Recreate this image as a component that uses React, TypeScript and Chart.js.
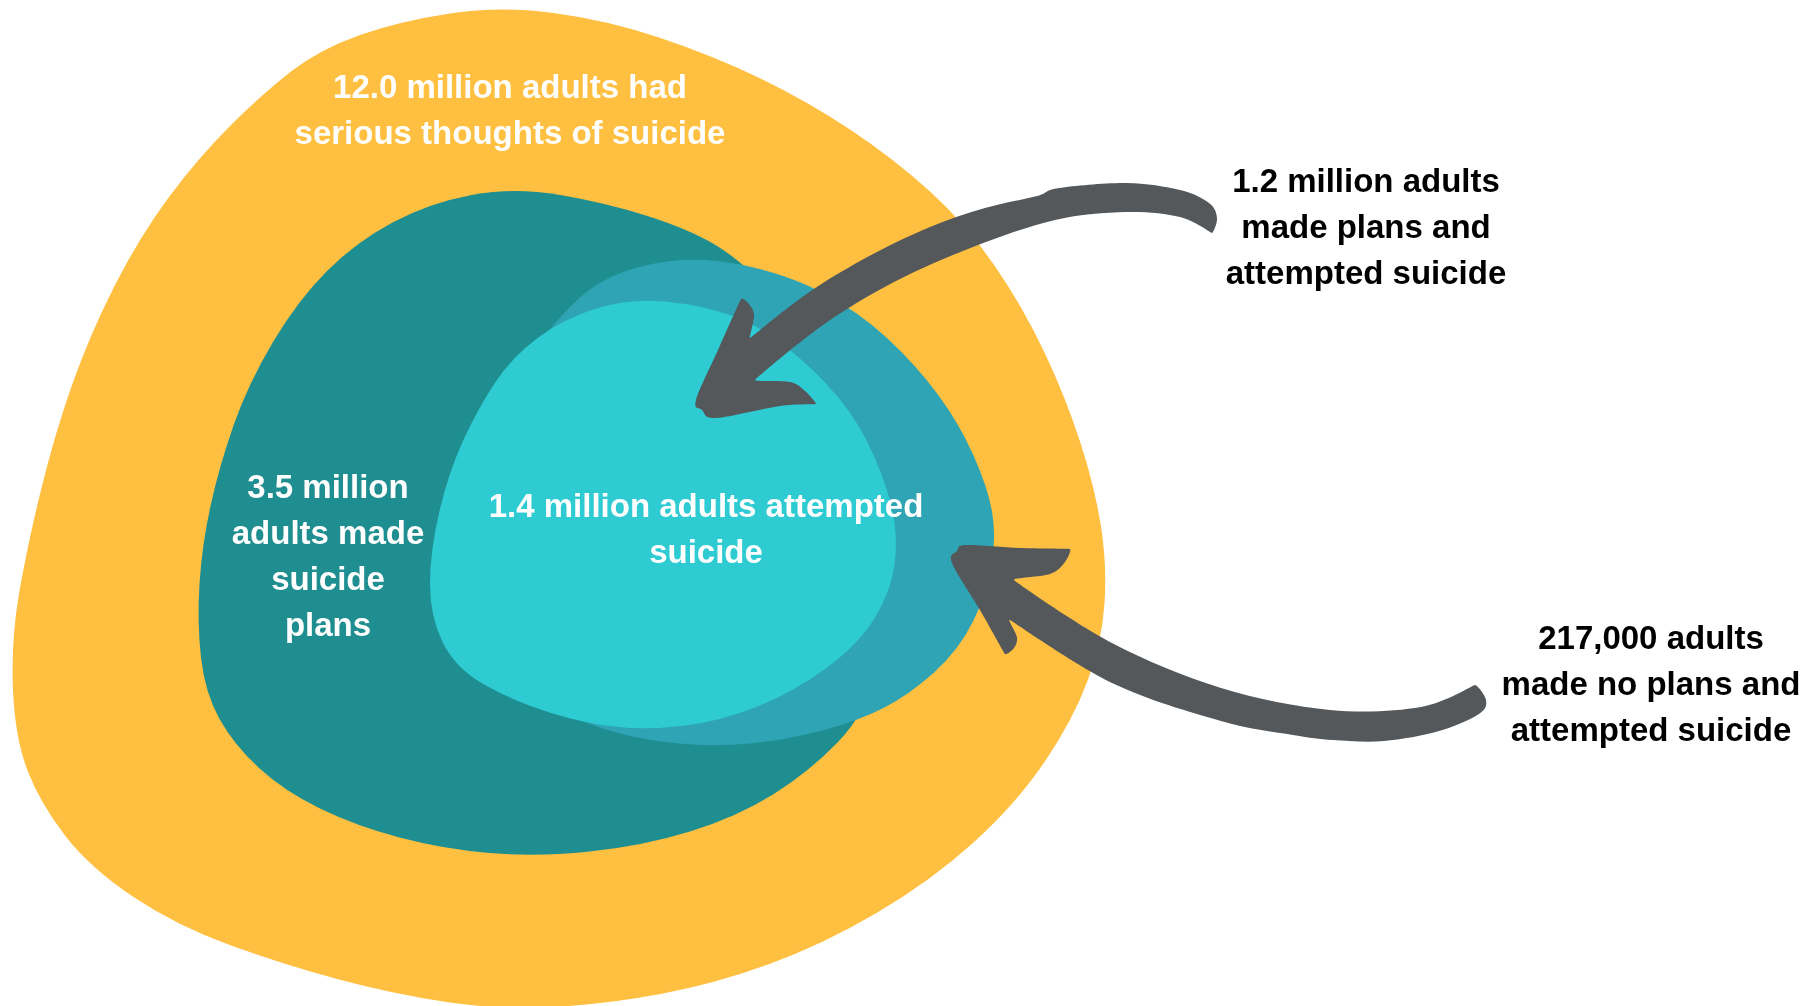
import React, { useEffect, useRef } from "react";
import { Chart, registerables } from "chart.js";

Chart.register(...registerables);

// Outline points of each region (in chart units, x: 0..1811, y: 0..1006 top-down)
const thoughtsBlob: number[][] = [
  [500, 6], [607, 20], [714, 56], [807, 101], [893, 158], [966, 224], [1023, 307], [1066, 398],
  [1095, 488], [1107, 565], [1102, 642], [1073, 720], [1016, 804], [931, 881], [822, 945],
  [714, 984], [607, 1004], [500, 1010], [393, 994], [285, 965], [177, 926], [90, 868], [40, 803],
  [15, 738], [11, 642], [26, 552], [54, 436], [90, 334], [140, 236], [198, 158], [262, 94],
  [320, 49], [400, 21],
];
const plansBlob: number[][] = [
  [514, 187], [607, 203], [688, 229], [738, 258], [800, 320], [855, 420], [882, 540], [882, 640],
  [866, 713], [809, 772], [737, 817], [643, 846], [536, 857], [443, 849], [356, 826], [284, 791],
  [234, 745], [205, 693], [197, 622], [202, 545], [219, 467], [248, 384], [298, 300], [356, 242],
  [429, 203],
];
const planAttemptBlob: number[][] = [
  [693, 255], [787, 274], [859, 312], [916, 365], [959, 423], [988, 488], [996, 535], [988, 591],
  [959, 650], [909, 695], [858, 721], [786, 740], [714, 747], [643, 740], [586, 724], [540, 700],
  [490, 640], [470, 560], [475, 470], [505, 390], [555, 320], [606, 274],
];
const attemptBlob: number[][] = [
  [629, 298], [701, 305], [759, 325], [816, 371], [859, 422], [888, 488], [898, 539], [891, 591],
  [859, 644], [794, 692], [721, 721], [650, 730], [586, 724], [513, 701], [455, 668], [430, 616],
  [430, 552], [448, 474], [477, 410], [512, 357], [563, 319],
];
const arrowTop: number[][] = [
  [696, 400], [718, 350], [741, 299], [748, 303], [754, 315], [750, 338], [785, 310], [823, 283],
  [875, 253], [930, 227], [985, 208], [1037, 196], [1059, 188], [1126, 183], [1180, 190],
  [1209, 203], [1217, 218], [1212, 233], [1180, 217], [1126, 212], [1055, 220], [973, 247],
  [894, 282], [823, 325], [755, 380], [790, 382], [805, 391], [816, 404], [780, 406], [716, 418],
  [702, 410],
];
const arrowBottom: number[][] = [
  [952, 563], [957, 551], [966, 545], [1020, 548], [1070, 549], [1065, 562], [1050, 574],
  [1014, 580], [1112, 643], [1221, 688], [1330, 710], [1421, 707], [1475, 685], [1486, 700],
  [1479, 714], [1439, 731], [1384, 741], [1333, 740], [1293, 735], [1221, 721], [1112, 683],
  [1010, 620], [1017, 637], [1014, 648], [1005, 654], [980, 610],
];

const regionNames = [
  "Serious thoughts of suicide",
  "Made suicide plans",
  "Made plans and attempted",
  "Attempted suicide",
  "Arrow: plans and attempted",
  "Arrow: no plans and attempted",
];
const regionShapes = [thoughtsBlob, plansBlob, planAttemptBlob, attemptBlob, arrowTop, arrowBottom];
const regionColors = ["#FFBF40", "#1F8E91", "#2EA4B4", "#2ECBD2", "#54585B", "#54585B"];
const regionSmooth = ["soft", "soft", "soft", "soft", "sharp", "sharp"];

const labelTexts: string[][] = [
  ["12.0 million adults had", "serious thoughts of suicide"],
  ["3.5 million", "adults made", "suicide", "plans"],
  ["1.4 million adults attempted", "suicide"],
  ["1.2 million adults", "made plans and", "attempted suicide"],
  ["217,000 adults", "made no plans and", "attempted suicide"],
];
const labelAnchors: number[][] = [
  [510, 89], [328, 489], [706, 508], [1366, 183], [1651, 640],
];
const labelColors = ["#FFFFFF", "#FFFFFF", "#FFFFFF", "#000000", "#000000"];
const lineGap = 46;
const labelFont = "bold 33px Arial, 'Liberation Sans', Helvetica, sans-serif";

const blobPlugin = {
  id: "blobs",
  beforeDatasetsDraw(chart: any) {
    const ctx = chart.ctx;
    chart.data.datasets.forEach((ds: any, i: number) => {
      const meta = chart.getDatasetMeta(i);
      const p = meta.data.map((e: any) => ({ x: e.x, y: e.y }));
      const n = p.length;
      if (n < 3) return;
      ctx.save();
      ctx.beginPath();
      if (ds.blobSmooth === "soft") {
        // closed quadratic B-spline through midpoints
        const mid = (a: any, b: any) => ({ x: (a.x + b.x) / 2, y: (a.y + b.y) / 2 });
        const m0 = mid(p[n - 1], p[0]);
        ctx.moveTo(m0.x, m0.y);
        for (let j = 0; j < n; j++) {
          const m = mid(p[j], p[(j + 1) % n]);
          ctx.quadraticCurveTo(p[j].x, p[j].y, m.x, m.y);
        }
      } else {
        // Catmull-Rom with tension reduced at sharp corners
        const t = p.map((_: any, j: number) => {
          const a = p[(j - 1 + n) % n];
          const b = p[j];
          const c = p[(j + 1) % n];
          const v1x = b.x - a.x, v1y = b.y - a.y, v2x = c.x - b.x, v2y = c.y - b.y;
          const cos = (v1x * v2x + v1y * v2y) / (Math.hypot(v1x, v1y) * Math.hypot(v2x, v2y) || 1);
          return cos < 0.45 ? 0.2 : 1;
        });
        const k = 1 / 6;
        ctx.moveTo(p[0].x, p[0].y);
        for (let j = 0; j < n; j++) {
          const j1 = (j + 1) % n;
          const p0 = p[(j - 1 + n) % n];
          const p1 = p[j];
          const p2 = p[j1];
          const p3 = p[(j + 2) % n];
          ctx.bezierCurveTo(
            p1.x + (p2.x - p0.x) * k * t[j],
            p1.y + (p2.y - p0.y) * k * t[j],
            p2.x - (p3.x - p1.x) * k * t[j1],
            p2.y - (p3.y - p1.y) * k * t[j1],
            p2.x,
            p2.y
          );
        }
      }
      ctx.closePath();
      ctx.fillStyle = ds.blobColor;
      ctx.fill();
      ctx.restore();
    });
  },
};

const labelPlugin = {
  id: "blobLabels",
  afterDatasetsDraw(chart: any) {
    const ctx = chart.ctx;
    const xs = chart.scales.x;
    const ys = chart.scales.y;
    ctx.save();
    ctx.font = labelFont;
    ctx.textAlign = "center";
    ctx.textBaseline = "middle";
    labelTexts.forEach((lines, i) => {
      const [ax, ay] = labelAnchors[i];
      ctx.fillStyle = labelColors[i];
      lines.forEach((line, j) => {
        ctx.fillText(line, xs.getPixelForValue(ax), ys.getPixelForValue(ay + j * lineGap));
      });
    });
    ctx.restore();
  },
};

export default function App() {
  const ref = useRef<HTMLCanvasElement>(null);
  useEffect(() => {
    if (!ref.current) return;
    const chart = new Chart(ref.current, {
      type: "scatter",
      data: {
        datasets: regionShapes.map((shape, i) => ({
          label: regionNames[i],
          data: shape.map(([x, y]) => ({ x, y })),
          showLine: false,
          pointRadius: 0,
          pointHoverRadius: 0,
          backgroundColor: regionColors[i],
          blobColor: regionColors[i],
          blobSmooth: regionSmooth[i],
        })) as any,
      },
      options: {
        animation: false,
        responsive: false,
        devicePixelRatio: 1,
        events: [],
        layout: { padding: 0 },
        plugins: { legend: { display: false }, tooltip: { enabled: false } },
        scales: {
          x: { type: "linear", min: 0, max: 1811, display: false },
          y: { type: "linear", min: 0, max: 1006, reverse: true, display: false },
        },
      },
      plugins: [blobPlugin, labelPlugin],
    });
    return () => chart.destroy();
  }, []);
  return (
    <div style={{ position: "fixed", left: 0, top: 0, width: 1811, height: 1006, background: "#fff" }}>
      <canvas ref={ref} width={1811} height={1006} style={{ display: "block" }} />
    </div>
  );
}
